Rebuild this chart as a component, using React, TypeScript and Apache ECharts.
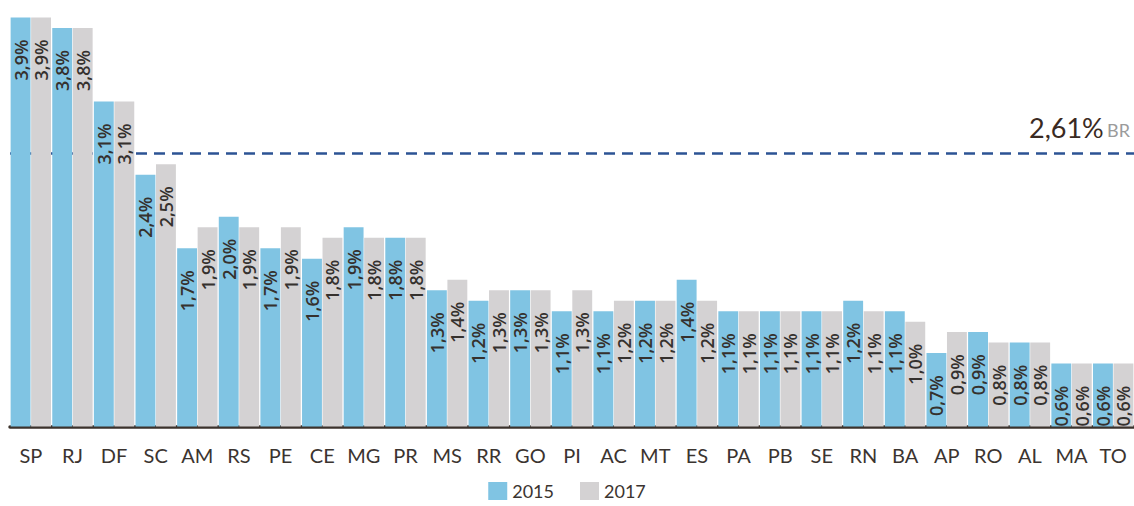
import React, { useEffect, useRef } from "react";
import * as echarts from "echarts";

const categories = ["SP","RJ","DF","SC","AM","RS","PE","CE","MG","PR","MS","RR","GO","PI","AC","MT","ES","PA","PB","SE","RN","BA","AP","RO","AL","MA","TO"];
const values2015 = [3.9,3.8,3.1,2.4,1.7,2.0,1.7,1.6,1.9,1.8,1.3,1.2,1.3,1.1,1.1,1.2,1.4,1.1,1.1,1.1,1.2,1.1,0.7,0.9,0.8,0.6,0.6];
const values2017 = [3.9,3.8,3.1,2.5,1.9,1.9,1.9,1.8,1.8,1.8,1.4,1.3,1.3,1.3,1.2,1.2,1.2,1.1,1.1,1.1,1.1,1.0,0.9,0.8,0.8,0.6,0.6];
const brazilAverage = 2.61;
const seriesNames = ["2015", "2017"];

const fmt = (v: number) => v.toFixed(1).replace(".", ",") + "%";

const barLabel = {
  show: true,
  position: "insideTop",
  rotate: 90,
  align: "right",
  verticalAlign: "middle",
  distance: 22,
  fontFamily: "Open Sans",
  fontWeight: 600,
  fontSize: 18,
  color: "#35312e",
  formatter: (p: any) => fmt(p.value),
};

export default function App() {
  const ref = useRef<HTMLDivElement>(null);
  useEffect(() => {
    if (!ref.current) return;
    const chart = echarts.init(ref.current, null, { renderer: "svg" });
    chart.setOption({
      animation: false,
      backgroundColor: "#ffffff",
      grid: { left: 10, right: 0, top: 7, bottom: 79.5, containLabel: false },
      legend: {
        top: 482,
        left: "center",
        padding: 0,
        icon: "rect",
        itemWidth: 19,
        itemHeight: 18,
        itemGap: 26,
        textStyle: { fontFamily: "Lato", fontSize: 18, lineHeight: 18, color: "#3b3430" },
        data: seriesNames,
      },
      xAxis: {
        type: "category",
        data: categories,
        axisLine: { onZero: false, lineStyle: { color: "#3b322c", width: 3.5 } },
        axisTick: { show: false },
        axisLabel: { interval: 0, fontFamily: "Lato", fontSize: 20, color: "#3b3430", margin: 18 },
      },
      yAxis: {
        type: "value",
        min: 0,
        max: 4.0,
        show: false,
        splitLine: { show: false },
      },
      series: [
        {
          name: seriesNames[0],
          type: "bar",
          data: values2015,
          barGap: "3%",
          barCategoryGap: "3%",
          itemStyle: { color: "#80c4e3" },
          label: barLabel,
          emphasis: { disabled: true },
          markLine: {
            silent: true,
            symbol: "none",
            z: 1,
            lineStyle: { color: "#2c5394", width: 2.5, type: [11, 7] },
            label: {
              position: "insideEndTop",
              distance: [4, 12],
              formatter: "{a|2,61%} {b|BR}",
              rich: {
                a: { fontFamily: "Lato", fontSize: 27, color: "#3a2a22" },
                b: { fontFamily: "Lato", fontSize: 18, color: "#9b9b9b", padding: [6, 0, 0, 0] },
              },
            },
            data: [{ yAxis: brazilAverage }],
          },
        },
        {
          name: seriesNames[1],
          type: "bar",
          data: values2017,
          itemStyle: { color: "#d4d2d3" },
          label: barLabel,
          emphasis: { disabled: true },
        },
      ],
    });
    return () => chart.dispose();
  }, []);
  return (
    <div
      ref={ref}
      style={{ position: "fixed", left: 0, top: 0, width: 1134, height: 506, background: "#fff" }}
    />
  );
}
